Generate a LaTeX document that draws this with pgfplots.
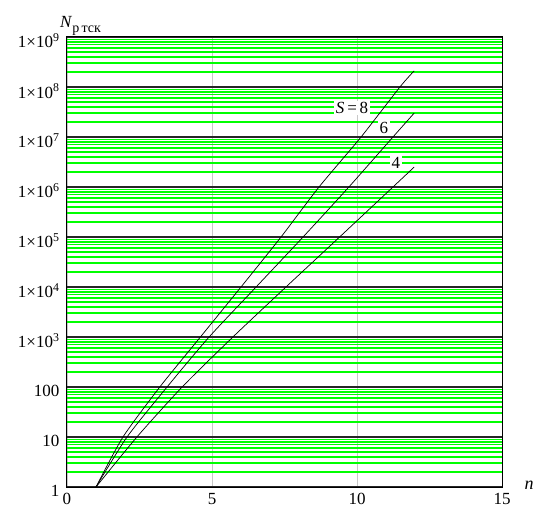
\documentclass[border=0pt]{standalone}
\usepackage{fontspec}
\setmainfont{Liberation Serif}
\usepackage{pgfplots}
\pgfplotsset{compat=1.18}
\definecolor{gridgreen}{RGB}{0,255,0}
\definecolor{vgray}{RGB}{200,200,200}
\begin{document}
\begin{tikzpicture}[x=1pt,y=1pt]
\path[use as bounding box] (-67,-21) rectangle (470,487);
\begin{axis}[
  at={(0,0)}, anchor=south west,
  scale only axis, width=435pt, height=450pt,
  xmin=0, xmax=15, ymin=1, ymax=1e9,
  ymode=log, log basis y=10,
  xtick={0,5,10,15},
  ytick={1,10,100,1000,1e4,1e5,1e6,1e7,1e8,1e9},
  minor ytick={},
  extra y ticks={2,3,4,5,6,7,8,9,
    20,30,40,50,60,70,80,90,
    200,300,400,500,600,700,800,900,
    2e3,3e3,4e3,5e3,6e3,7e3,8e3,9e3,
    2e4,3e4,4e4,5e4,6e4,7e4,8e4,9e4,
    2e5,3e5,4e5,5e5,6e5,7e5,8e5,9e5,
    2e6,3e6,4e6,5e6,6e6,7e6,8e6,9e6,
    2e7,3e7,4e7,5e7,6e7,7e7,8e7,9e7,
    2e8,3e8,4e8,5e8,6e8,7e8,8e8,9e8},
  extra y tick labels={},
  extra y tick style={grid=major, major y grid style={gridgreen, line width=1.4pt}, major grid style={gridgreen, line width=1.4pt}, major tick length=0pt},
  yticklabels={1,10,100,1×10\textsuperscript{3},1×10\textsuperscript{4},1×10\textsuperscript{5},1×10\textsuperscript{6},1×10\textsuperscript{7},1×10\textsuperscript{8},1×10\textsuperscript{9}},
  xticklabels={0,5,10,15},
  major tick length=0pt, minor tick length=0pt,
  /pgf/number format/assume math mode=true,
  tick label style={font=\fontsize{17}{17}\selectfont},
  yticklabel style={xshift=-4pt, yshift=-4pt},
  xticklabel style={yshift=-3pt},
  xmajorgrids=true, ymajorgrids=true, yminorgrids=false,
  x grid style={vgray, line width=0.9pt},
  major y grid style={black!85, line width=1.3pt},
  axis line style={black, line width=1pt},
  clip=true,
]
\addplot[black, line width=0.7pt, smooth, tension=0.4] coordinates {
 (1,1) (1.93,10) (3.2,100) (4.6,1e3) (6.0,1e4) (7.38,1e5) (8.69,1e6) (10.14,1e7) (11.48,1e8) (11.97,2.1e8)};
\addplot[black, line width=0.7pt, smooth, tension=0.4] coordinates {
 (1,1) (2.07,10) (3.45,100) (4.9,1e3) (6.52,1e4) (8.14,1e5) (9.72,1e6) (11.24,1e7) (11.97,3.0e7)};
\addplot[black, line width=0.7pt, smooth, tension=0.4] coordinates {
 (1,1) (2.41,10) (3.97,100) (5.72,1e3) (7.55,1e4) (9.4,1e5) (11.24,1e6) (11.97,2.5e6)};
\node[fill=white, inner sep=1.5pt, font=\fontsize{17}{17}\selectfont] at (axis cs:9.83,3.8e7) {\textit{S}\,=\,8};
\node[fill=white, inner sep=1.5pt, font=\fontsize{17}{17}\selectfont] at (axis cs:10.93,1.5e7) {6};
\node[fill=white, inner sep=1.5pt, font=\fontsize{17}{17}\selectfont] at (axis cs:11.34,3.0e6) {4};
\end{axis}
\node[anchor=base west, inner sep=0pt, font=\fontsize{17}{17}\selectfont] at (-7,459) {\textit{N}\raisebox{-5pt}{\fontsize{14}{14}\selectfont р\,тск}};
\node[anchor=center, inner sep=0pt, font=\fontsize{18}{18}\selectfont] at (462,2) {\textit{n}};
\end{tikzpicture}
\end{document}
